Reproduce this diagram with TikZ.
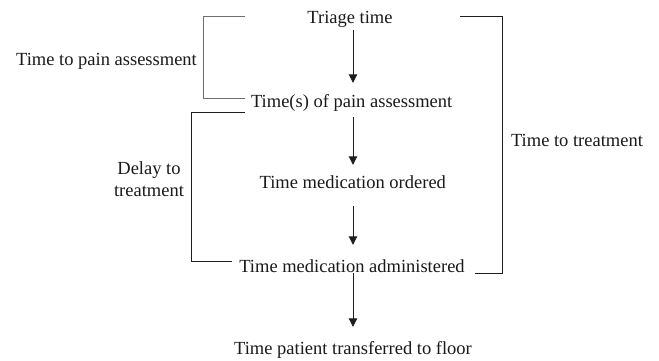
\documentclass[tikz,border=0pt]{standalone}
\usepackage{fontspec}
\setmainfont{Liberation Serif}
\usetikzlibrary{arrows.meta}
\definecolor{ink}{HTML}{1E1E1E}
\definecolor{txt}{HTML}{1A1A1A}
\definecolor{graybrk}{HTML}{6E6E6E}
\begin{document}
\begin{tikzpicture}[x=1pt,y=-1pt,
  lbl/.style={inner sep=0pt, anchor=base, font=\fontsize{18.5}{22}\selectfont, text=txt, text height=12.5pt, text depth=0pt},
  side/.style={inner sep=0pt, font=\fontsize{18.5}{22}\selectfont, text=txt, align=center},
  flow/.style={draw=ink, line width=0.9pt, -{Triangle[width=8.5pt,length=8.5pt]}},
  brk/.style={draw=ink, line width=0.9pt},
  gbrk/.style={draw=graybrk, line width=1pt}]
\useasboundingbox (0,0) rectangle (659,360);
\fill[white] (0,0) rectangle (659,360);

% main timeline texts
\node[lbl] (triage) at (350,23) {Triage time};
\node[lbl] (pain)   at (351.7,107) {Time(s) of pain assessment};
\node[lbl] (order)  at (352.8,188) {Time medication ordered};
\node[lbl] (admin)  at (352,272) {Time medication administered};
\node[lbl] (floor)  at (353,354) {Time patient transferred to floor};

% side labels
\node[side, anchor=base] (ttpa) at (106.5,65) {Time to pain assessment};
\node[side] (delay) at (149,179) {Delay to\\treatment};
\node[side, anchor=base] (ttt) at (577,146.7) {Time to treatment};

% arrow axis
\coordinate (axis) at (353,0);
\draw[flow, shorten <=7pt, shorten >=11.5pt] (axis |- triage.south) -- (axis |- pain.north);
\draw[flow, shorten <=10pt, shorten >=10.5pt] (axis |- pain.south) -- (axis |- order.north);
\draw[flow, shorten <=18pt, shorten >=14.5pt] (axis |- order.south) -- (axis |- admin.north);
\draw[flow, shorten <=1pt, shorten >=14.5pt] (axis |- admin.south) -- (axis |- floor.north);

% bracket end points
\coordinate (g1) at (245,16);
\coordinate (g2) at (245,98.5);
\coordinate (d1) at (245,112);
\coordinate (d2) at (231.5,261);
\coordinate (r1) at (460,16);
\coordinate (r2) at (475,273.5);

% brackets
\draw[gbrk] (g1) -- (203,16) -- (203,98.5) -- (g2);
\draw[brk] (d1) -- (191,112) -- (191,261) -- (d2);
\draw[brk] (r1) -- (502,16) -- (502,273.5) -- (r2);
\end{tikzpicture}
\end{document}
